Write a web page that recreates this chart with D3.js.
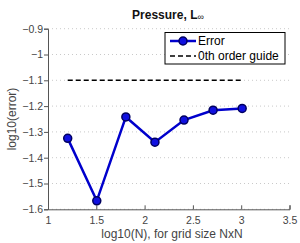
<!DOCTYPE html>
<html>
<head>
<meta charset="utf-8">
<script src="https://cdn.jsdelivr.net/npm/d3@7"></script>
<style>
  body { margin: 0; background: #fff; }
  text { font-family: "Liberation Sans", Arial, sans-serif; }
</style>
</head>
<body>
<div id="chart"></div>
<script>
// grid sizes N = 16 .. 1024, plotted as log10(N)
let logN = [1.204, 1.505, 1.806, 2.107, 2.408, 2.709, 3.010]
let logErr = [-1.325, -1.567, -1.242, -1.340, -1.254, -1.216, -1.209]
let guideX = [1.204, 3.010]
let guideY = [-1.1, -1.1]
let xTicks = [1, 1.5, 2, 2.5, 3, 3.5]
let yTicks = [-0.9, -1, -1.1, -1.2, -1.3, -1.4, -1.5, -1.6]

let svgWidth = 300
let svgHeight = 243
let plotLeft = 48, plotRight = 289.5, plotTop = 28.7, plotBottom = 209.3

let svg = d3.select("#chart")
    .append("svg")
        .attr("width", svgWidth)
        .attr("height", svgHeight)

let x = d3.scaleLinear().domain([1, 3.5]).range([plotLeft, plotRight])
let y = d3.scaleLinear().domain([-0.9, -1.6]).range([plotTop, plotBottom])

//dotted horizontal grid
svg.selectAll(".grid")
    .data(yTicks)
    .join("line")
    .attr("x1", plotLeft).attr("x2", plotRight)
    .attr("y1", d => y(d)).attr("y2", d => y(d))
    .attr("stroke", "#bbb")
    .attr("stroke-width", 0.8)
    .attr("stroke-dasharray", "1,3")

//minor ticks
let xMinor = d3.range(1, 3.5001, 0.1)
let yMinor = d3.range(-1.6, -0.8999, 0.02)

let xAxis = svg.append("g")
    .attr("transform", `translate(0,${plotBottom})`)
xAxis.call(d3.axisBottom(x).tickValues(xMinor).tickSize(-2).tickFormat(""))
xAxis.call(d3.axisBottom(x).tickValues(xTicks).tickSize(-4).tickFormat(d3.format("")))

let yAxis = svg.append("g")
    .attr("transform", `translate(${plotLeft},0)`)
yAxis.call(d3.axisLeft(y).tickValues(yMinor).tickSize(2).tickFormat(""))
yAxis.call(d3.axisLeft(y).tickValues(yTicks).tickSize(4).tickFormat(d => d3.format("")(d).replace("-", "\u2212")))

svg.selectAll(".domain").attr("stroke", "#555")
svg.selectAll(".tick line").attr("stroke", "#555")
svg.selectAll(".tick text")
    .style("font-size", "10.5px")
    .attr("fill", "#444")
xAxis.selectAll(".tick text").attr("y", 7)
yAxis.selectAll(".tick text").attr("x", -5)

//guide line
let line = d3.line().x(d => x(d[0])).y(d => y(d[1]))
svg.append("path")
    .attr("d", line(d3.zip(guideX, guideY)))
    .attr("fill", "none")
    .attr("stroke", "#000")
    .attr("stroke-width", 1.5)
    .attr("stroke-dasharray", "5,3")

//error line
svg.append("path")
    .attr("d", line(d3.zip(logN, logErr)))
    .attr("fill", "none")
    .attr("stroke", "#0000cc")
    .attr("stroke-width", 2.5)

svg.selectAll(".pt")
    .data(d3.zip(logN, logErr))
    .join("circle")
    .attr("cx", d => x(d[0]))
    .attr("cy", d => y(d[1]))
    .attr("r", 4)
    .attr("fill", "#1010e0")
    .attr("stroke", "#000060")
    .attr("stroke-width", 1.5)

//legend
let lg = svg.append("g")
lg.append("rect")
    .attr("x", 165).attr("y", 32.5)
    .attr("width", 120).attr("height", 31.5)
    .attr("fill", "#fff")
    .attr("stroke", "#000")
    .attr("stroke-width", 1)
lg.append("line")
    .attr("x1", 170).attr("x2", 196).attr("y1", 41).attr("y2", 41)
    .attr("stroke", "#0000cc").attr("stroke-width", 2.5)
lg.append("circle")
    .attr("cx", 183).attr("cy", 41).attr("r", 4)
    .attr("fill", "#1010e0").attr("stroke", "#000060").attr("stroke-width", 1.5)
lg.append("line")
    .attr("x1", 170).attr("x2", 196).attr("y1", 56).attr("y2", 56)
    .attr("stroke", "#000").attr("stroke-width", 1.5).attr("stroke-dasharray", "5,3")
lg.append("text").attr("x", 198).attr("y", 45).text("Error")
    .style("font-size", "12px").attr("fill", "#000")
lg.append("text").attr("x", 198).attr("y", 60).text("0th order guide")
    .style("font-size", "12px").attr("fill", "#000")

//title and labels
let title = svg.append("text")
    .attr("x", 168).attr("y", 19)
    .attr("text-anchor", "middle")
    .style("font-size", "12px")
    .style("font-weight", "bold")
    .attr("fill", "#111")
title.append("tspan").text("Pressure, L")
title.append("tspan").text("\u221e").style("font-size", "9px").style("font-weight", "normal").attr("dy", 1)

svg.append("text")
    .attr("transform", `translate(16,${(plotTop + plotBottom) / 2}) rotate(-90)`)
    .attr("text-anchor", "middle")
    .style("font-size", "12px")
    .attr("fill", "#444")
    .text("log10(error)")

svg.append("text")
    .attr("x", 172).attr("y", 238)
    .attr("text-anchor", "middle")
    .style("font-size", "12px")
    .attr("fill", "#444")
    .text("log10(N), for grid size NxN")
</script>
</body>
</html>
